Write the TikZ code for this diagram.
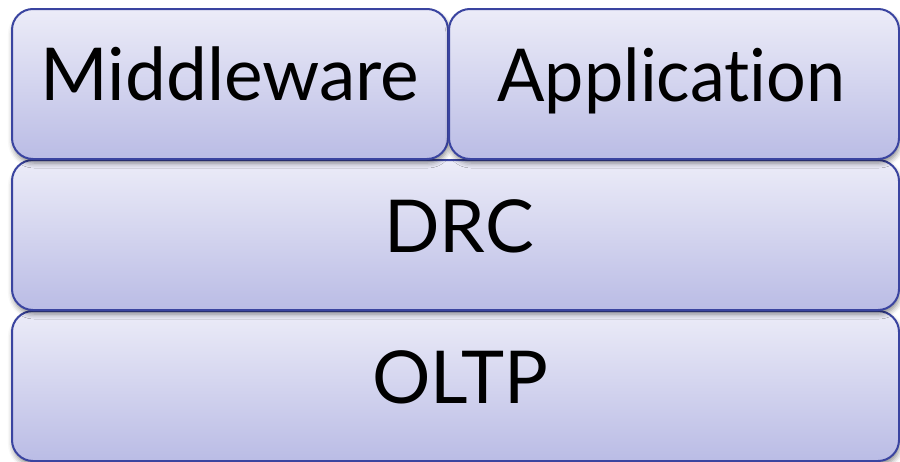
\documentclass[tikz,border=0pt]{standalone}
\usepackage{fontspec}
\setmainfont{Lato}[Ligatures={NoCommon}]
\usetikzlibrary{shadows.blur}
\definecolor{boxtop}{HTML}{ECECF8}
\definecolor{boxbot}{HTML}{BABCE5}
\definecolor{boxline}{HTML}{3A44A0}
\tikzset{
  layer/.style={draw=boxline, line width=2pt, rounded corners=21pt,
    top color=boxtop, bottom color=boxbot, inner sep=0pt,
    blur shadow={shadow xshift=1pt, shadow yshift=-4pt,
      shadow blur radius=5pt, shadow opacity=45}},
  lbl/.style={anchor=base, inner sep=0pt, font=\fontsize{73}{86}\selectfont}
}
\begin{document}
\begin{tikzpicture}[x=1pt, y=-1pt]
  \useasboundingbox (0,0) rectangle (900,461);
  % bottom layer first so the shadows of upper layers fall on it
  \node[layer, minimum width=887pt, minimum height=150pt] (oltp) at (455.5,386) {};
  \node[layer, minimum width=887pt, minimum height=150pt] (drc) at (455.5,235) {};
  \node[layer, minimum width=436pt, minimum height=150pt] (mw) at (230,84) {};
  \node[layer, minimum width=450pt, minimum height=150pt] (app) at (674,84) {};
  % labels
  \node[lbl] (tmw) at (230,100) {Middleware};
  \node[lbl, xscale=0.96] (tapp) at (671.5,101) {Application};
  \node[lbl] (tdrc) at (459,252) {DRC};
  \node[lbl] (toltp) at (460,403) {OLTP};
\end{tikzpicture}
\end{document}
